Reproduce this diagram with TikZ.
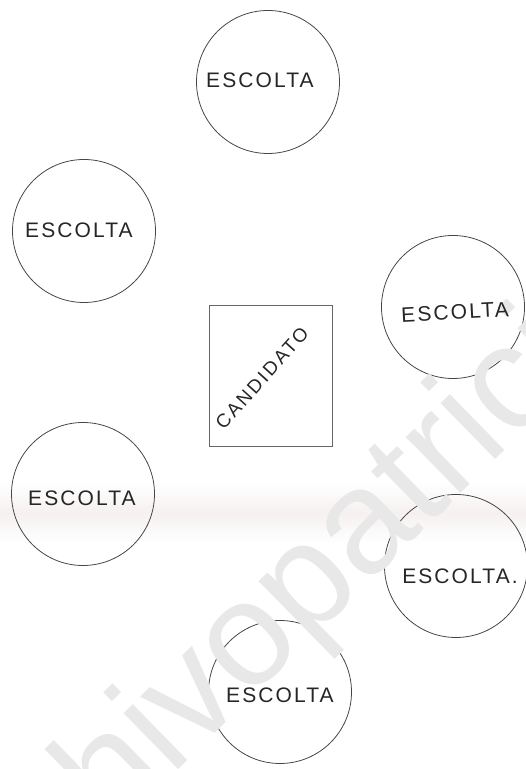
\documentclass[tikz,border=0pt]{standalone}
\usepackage{fontspec}
\setmainfont{Liberation Sans}
\definecolor{bandc}{RGB}{246,240,240}
\definecolor{wmfill}{RGB}{232,232,232}
\definecolor{pencil}{RGB}{70,70,70}
\begin{document}
\begin{tikzpicture}[x=1pt,y=1pt,
  guard/.style={circle, draw=pencil, line width=0.8pt, minimum size=143pt, inner sep=0pt},
  glabel/.style={font=\fontsize{21}{21}\selectfont\addfontfeature{LetterSpace=10}, text=black!85, inner sep=0pt},
  cand/.style={draw=black!60, line width=0.7pt, minimum width=123pt, minimum height=141pt, inner sep=0pt},
  clabel/.style={font=\fontsize{19}{19}\selectfont\addfontfeature{LetterSpace=12}, text=black!85, inner sep=0pt},
  wm/.style={font=\fontsize{148}{148}\selectfont, text=wmfill, inner sep=0pt}]
\path[use as bounding box] (0,0) rectangle (526,769);
\begin{scope}
\clip (0,0) rectangle (526,769);
% faint scanning band
\fill[top color=white, bottom color=bandc, draw=none] (0,256) rectangle (526,286);
\fill[top color=bandc, bottom color=white, draw=none] (0,226) rectangle (526,256);

% escorts
\node[guard] (e1) at (268,687) {};
\node[guard] (e2) at (84,538) {};
\node[guard] (e3) at (453,462) {};
\node[guard] (e5) at (83,275) {};
\node[guard] (e6) at (456,203) {};
\node[guard] (e7) at (280,77) {};

% candidate
\node[cand] (c) at (270.5,393.5) {};

% watermark
\node[wm, rotate=44.3, anchor=base west] (wm) at (112,-65) {hivopatrici};

% labels
\node[glabel] (t1) at (260,689) {ESCOLTA};
\node[glabel] (t2) at (79,539) {ESCOLTA};
\node[glabel, rotate=3] (t3) at (455,457) {ESCOLTA};
\node[glabel] (t5) at (82,271) {ESCOLTA};
\node[glabel] (t6) at (460,193) {ESCOLTA.};
\node[glabel] (t7) at (280,74) {ESCOLTA};
\node[clabel, rotate=48] (ct) at (262,391) {CANDIDATO};
\end{scope}
\end{tikzpicture}
\end{document}
